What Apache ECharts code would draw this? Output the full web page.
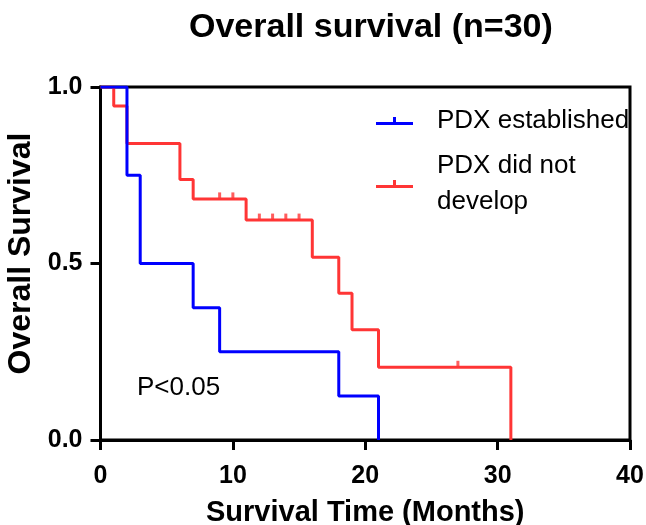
<!DOCTYPE html>
<html>
<head>
<meta charset="utf-8">
<script src="https://cdn.jsdelivr.net/npm/echarts@6/dist/echarts.min.js"></script>
<style>
html,body{margin:0;padding:0;background:#fff;}
#chart{width:646px;height:525px;}
</style>
</head>
<body>
<div id="chart"></div>
<script>
// Data
const blueName = 'PDX established';
const redName = 'PDX did not\ndevelop';
const blueTimes = [0, 2, 3, 7, 9, 18, 21];
const blueSurv = [1, 0.75, 0.5, 0.375, 0.25, 0.125, 0];
const redTimes = [0, 1, 2, 6, 7, 11, 16, 18, 19, 21, 31];
const redSurv = [1, 0.946, 0.84, 0.738, 0.683, 0.623, 0.518, 0.416, 0.312, 0.206, 0];
const redCensorTimes = [9, 10, 12, 13, 14, 15, 27];
const redCensorSurv = [0.683, 0.683, 0.623, 0.623, 0.623, 0.623, 0.206];
const xTicks = [0, 10, 20, 30, 40];
const yTicks = [0, 0.5, 1];

const FONT = "'Liberation Sans', Arial, Helvetica, sans-serif";
const BLUE = '#0000FF';
const RED = '#FF3535';

const pair = (xs, ys) => xs.map((x, i) => [x, ys[i]]);
const legendIcon = 'path://M0,5 L37,5 L37,8 L0,8 Z M17,0 L20,0 L20,5 L17,5 Z';

const chart = echarts.init(document.getElementById('chart'), null, {renderer: 'canvas'});
chart.setOption({
  animation: false,
  backgroundColor: '#fff',
  title: {
    text: 'Overall survival (n=30)',
    left: 184,
    top: 6,
    textStyle: {fontFamily: FONT, fontSize: 34, fontWeight: 'bold', color: '#000'}
  },
  grid: {
    left: 100.5, right: 16, top: 87, bottom: 85,
    outerBoundsMode: 'none',
    containLabel: false,
    show: true, borderColor: '#000', borderWidth: 3, backgroundColor: 'transparent'
  },
  legend: {
    orient: 'vertical',
    left: 376,
    top: 103,
    padding: 0,
    itemWidth: 37,
    itemHeight: 8,
    itemGap: 9,
    icon: legendIcon,
    data: [
      {name: blueName, itemStyle: {color: BLUE}},
      {name: redName, itemStyle: {color: RED}}
    ],
    textStyle: {fontFamily: FONT, fontSize: 26, color: '#000', lineHeight: 36, padding: [0, 0, 0, 19]},
    selectedMode: false
  },
  xAxis: {
    type: 'value',
    min: xTicks[0], max: xTicks[xTicks.length - 1], interval: 10,
    name: 'Survival Time (Months)',
    nameLocation: 'middle',
    nameGap: 58,
    nameTextStyle: {fontFamily: FONT, fontSize: 29, fontWeight: 'bold', color: '#000'},
    axisLine: {show: true, onZero: false, lineStyle: {color: '#000', width: 3}},
    axisTick: {show: true, length: 10, lineStyle: {color: '#000', width: 3}},
    axisLabel: {margin: 24, fontFamily: FONT, fontSize: 25, fontWeight: 'bold', color: '#000'},
    splitLine: {show: false}
  },
  yAxis: {
    type: 'value',
    min: yTicks[0], max: yTicks[yTicks.length - 1], interval: 0.5,
    name: 'Overall Survival',
    nameLocation: 'middle',
    nameGap: 58,
    nameTextStyle: {fontFamily: FONT, fontSize: 32, fontWeight: 'bold', color: '#000', padding: [0, 0, 0, 20]},
    axisLine: {show: true, onZero: false, lineStyle: {color: '#000', width: 3}},
    axisTick: {show: true, length: 10, lineStyle: {color: '#000', width: 3}},
    axisLabel: {margin: 18, fontFamily: FONT, fontSize: 25, fontWeight: 'bold', color: '#000',
      formatter: v => v.toFixed(1)},
    splitLine: {show: false}
  },
  graphic: [{
    type: 'text',
    left: 137,
    top: 375,
    style: {text: 'P<0.05', fontFamily: FONT, fontSize: 26, fill: '#000'}
  }],
  series: [
    {
      name: redName, type: 'line', step: 'end', showSymbol: false,
      data: pair(redTimes, redSurv),
      lineStyle: {color: RED, width: 3}, itemStyle: {color: RED}, z: 3
    },
    {
      name: redName, type: 'scatter',
      data: pair(redCensorTimes, redCensorSurv),
      symbol: 'rect', symbolSize: [3, 7], symbolOffset: [0, -3],
      itemStyle: {color: RED}, z: 3
    },
    {
      name: blueName, type: 'line', step: 'end', showSymbol: false,
      data: pair(blueTimes, blueSurv),
      lineStyle: {color: BLUE, width: 3}, itemStyle: {color: BLUE}, z: 4
    }
  ]
});
</script>
</body>
</html>
